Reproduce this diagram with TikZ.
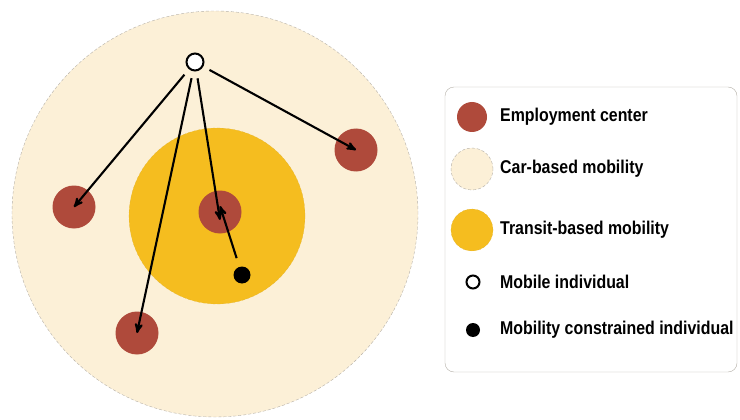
\documentclass[tikz,border=0pt]{standalone}
\usepackage{fontspec}
\setmainfont[FakeStretch=0.86]{Liberation Sans}
\usetikzlibrary{arrows,positioning}

\definecolor{carfill}{HTML}{FCF0D7}
\definecolor{transitfill}{HTML}{F5BD1F}
\definecolor{jobred}{HTML}{AF4A3B}
\definecolor{rimgray}{HTML}{B5B0A8}

\begin{document}
\begin{tikzpicture}
        [x = 1pt, y = -1pt, >=stealth', inner sep = 0pt,
        car/.style = {circle, fill=carfill, draw=rimgray, densely dashed, thin},
        transit/.style = {circle, fill=transitfill, draw=transitfill!80!gray, densely dashed, very thin},
        job/.style = {circle, fill=jobred, minimum size = 43pt},
        mobile/.style = {circle, fill=white, draw=black, line width = 2pt},
        stuck/.style = {circle, fill=black},
        trip/.style = {->, line width = 2.1pt, shorten < = 7pt},
        label/.style = {anchor = west, font = \bfseries\fontsize{18.5}{20}\selectfont}]

        \useasboundingbox (0,0) rectangle (740,420);

        %% mobility zones
        \node[car, minimum size = 406pt]     (carzone)     at (215,214) {};
        \node[transit, minimum size = 176pt] (transitzone) at (217,216) {};

        %% employment centers and individuals
        \node[job] (west)   at (74,207)  {};
        \node[job] (east)   at (356,150) {};
        \node[job] (middle) at (220,212) {};
        \node[job] (south)  at (137,333) {};
        \node[mobile, minimum size = 17pt] (driver)  at (195,62)  {};
        \node[stuck, minimum size = 17pt]  (walker)  at (242,275) {};

        %% trips
        \draw[trip] (driver) -- (west.center);
        \draw[trip] (driver) -- (south.center);
        \draw[trip] (driver) -- ([yshift=-8pt]middle.center);
        \draw[trip] (driver) -- (east.center);
        \draw[trip, shorten < = 9pt] (walker) -- ([yshift=6pt]middle.center);

        %% legend
        \node[draw=rimgray, fill=white, rounded corners = 9pt, thin,
              minimum width = 292pt, minimum height = 285pt] (legend) at (591,229.5) {};
        \node[job, minimum size = 30pt]           (keyjob)     at (472,117) {};
        \node[car, minimum size = 42pt]           (keycar)     at (472,169) {};
        \node[transit, minimum size = 42pt]       (keytransit) at (472,230) {};
        \node[mobile, minimum size = 13pt]        (keymobile)  at (473,282) {};
        \node[stuck, minimum size = 14pt]         (keystuck)   at (473,330) {};

        \node[label] at (500,117) {Employment center};
        \node[label] at (500,169) {Car-based mobility};
        \node[label] at (500,230) {Transit-based mobility};
        \node[label] at (500,282) {Mobile individual};
        \node[label] at (500,330) {Mobility constrained individual};
    \end{tikzpicture}
\end{document}
